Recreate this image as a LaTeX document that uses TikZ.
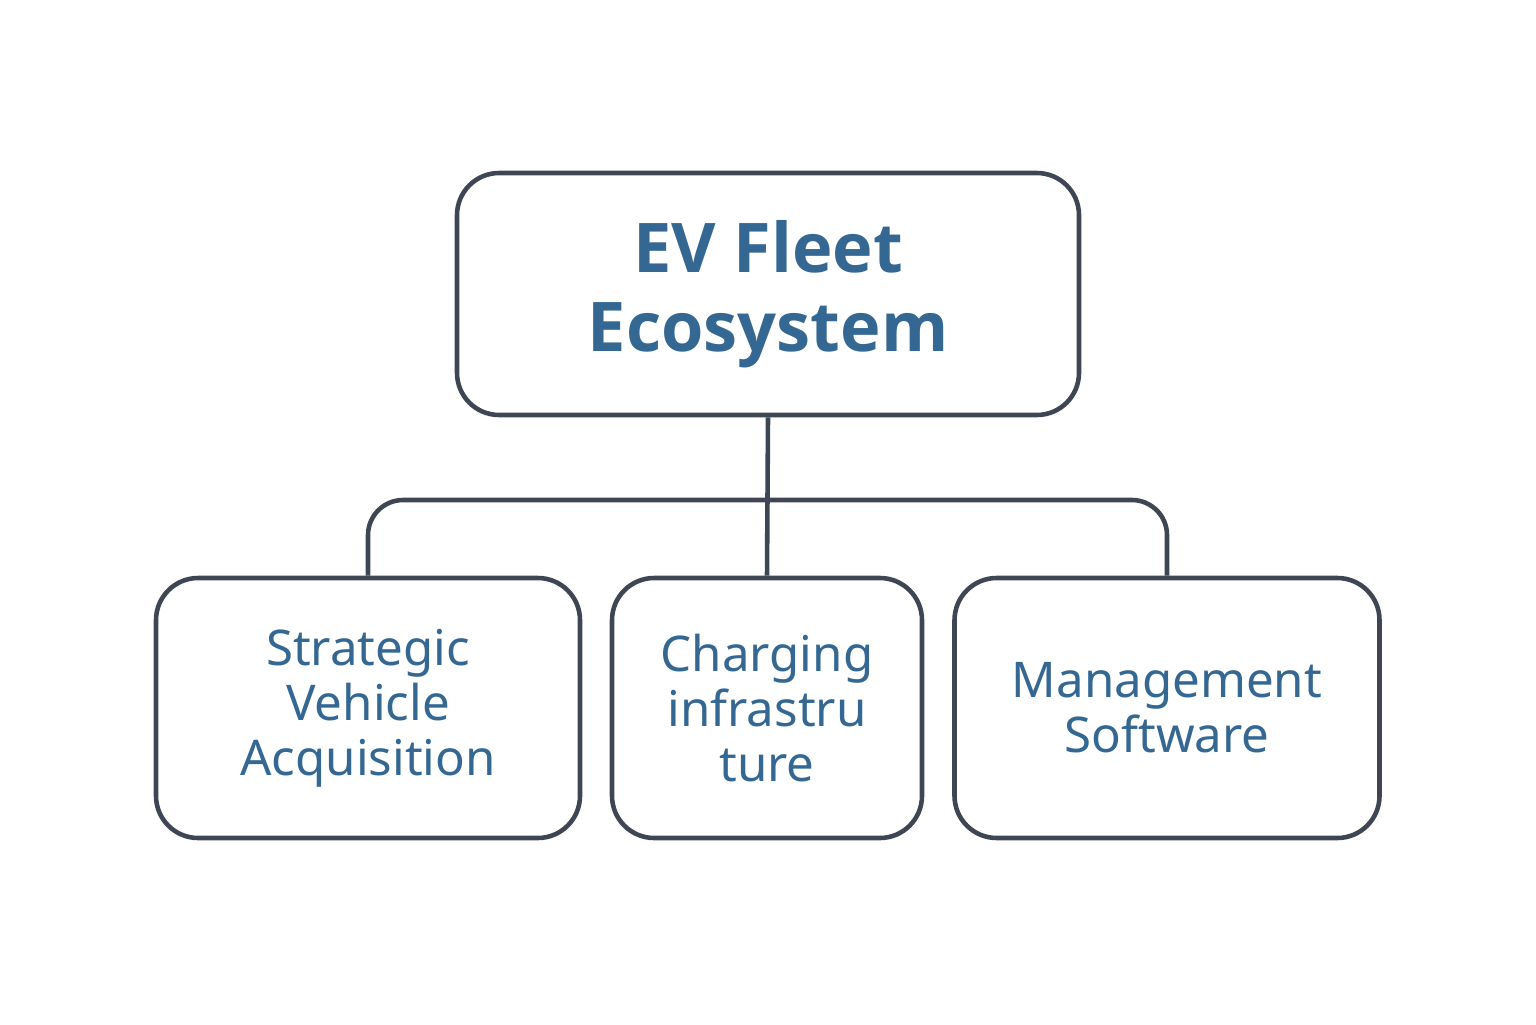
\documentclass[tikz,border=0pt]{standalone}
\usepackage{fontspec}
\setmainfont{Noto Sans}
\newfontfamily\titlefont{Open Sans}
\usepackage{xcolor}
\definecolor{boxline}{RGB}{62, 70, 84}
\definecolor{textblue}{RGB}{52, 104, 146}
\usetikzlibrary{positioning,calc}

\begin{document}
\begin{tikzpicture}[
    box/.style={rectangle, draw=boxline, line width=1.3pt, rounded corners=12pt, align=center, text=textblue},
    leaf/.style={box, minimum height=2.6cm, font=\fontsize{14}{15.7}\selectfont},
    link/.style={draw=boxline, line width=1.3pt, rounded corners=10pt}]
    \useasboundingbox (0,0) rectangle (15.36,10.24);

    % root
    \node[box, minimum width=6.22cm, minimum height=2.42cm,
        font=\titlefont\fontsize{19.5}{22.4}\selectfont\bfseries] (root) at (7.68,7.3) {EV Fleet\\Ecosystem};

    % branches
    \node[leaf, minimum width=4.24cm] (vehicle) at (3.68,3.16) {Strategic\\Vehicle\\Acquisition};
    \node[leaf, minimum width=3.10cm] (charging) at (7.67,3.16) {Charging\\infrastru\\ture};
    \node[leaf, minimum width=4.25cm] (software) at (11.67,3.16) {Management\\Software};

    \coordinate (bus) at (7.68,5.24);
    \draw[link] (root.south) -- (charging.north);
    \draw[link] (vehicle.north) |- (bus) -| (software.north);
\end{tikzpicture}
\end{document}
